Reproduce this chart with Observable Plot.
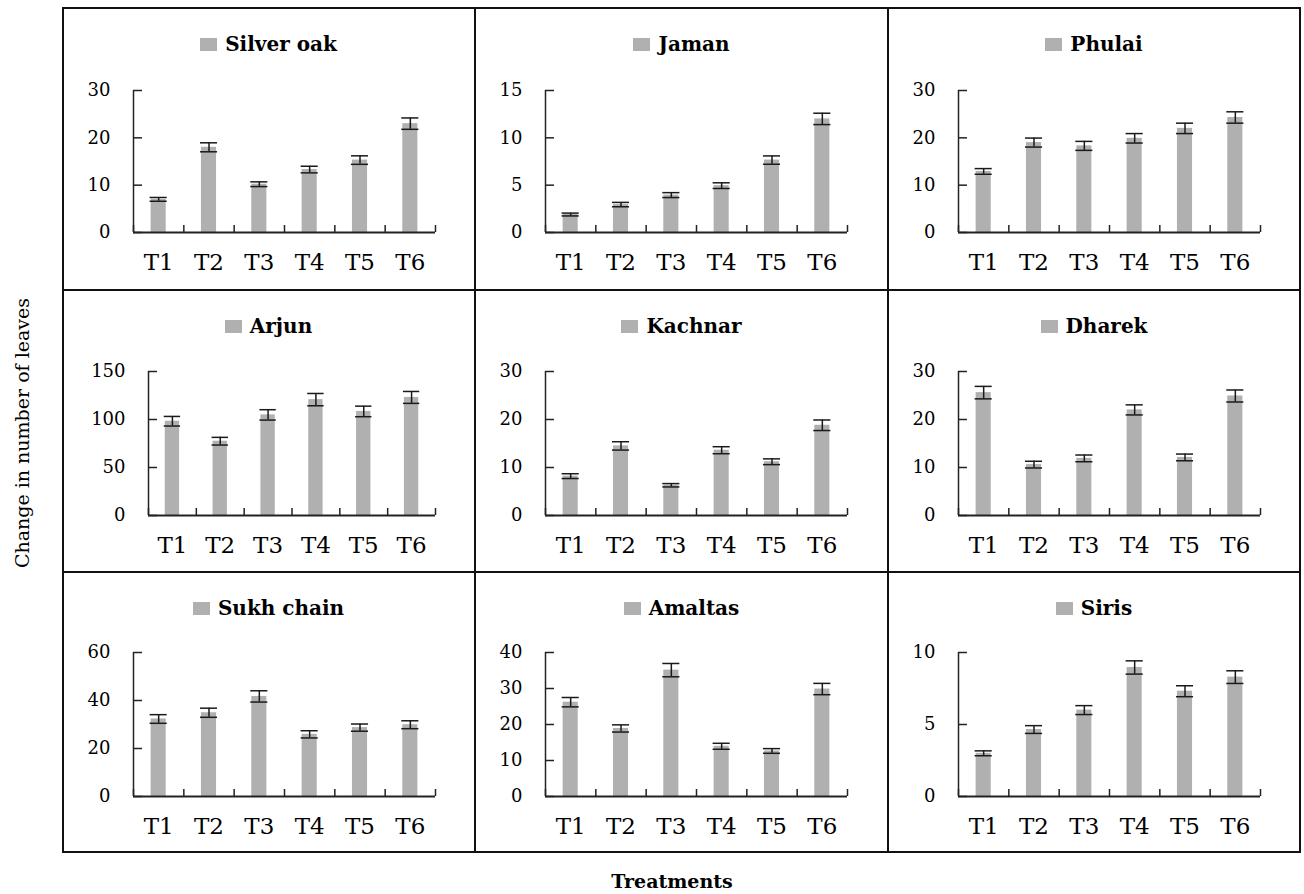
<!DOCTYPE html>
<html>
<head>
<meta charset="utf-8">
<script src="https://cdn.jsdelivr.net/npm/d3@7"></script>
<script src="https://cdn.jsdelivr.net/npm/@observablehq/plot@0.6"></script>
<style>
  html, body { margin: 0; padding: 0; background: #fff; }
  body { width: 1304px; height: 894px; position: relative; overflow: hidden; font-family: "DejaVu Serif", serif; }
  .line { position: absolute; background: #111; z-index: 5; }
  .cell { position: absolute; }
  .cell svg { position: absolute; left: 0; top: 0; }
  .legend { position: absolute; left: 0; right: 0; top: 23px; height: 26px; display: flex; align-items: center; justify-content: center; z-index: 2; }
  .legend .sw { width: 17px; height: 13px; background: #b0b0b0; margin-right: 8px; }
  .legend .lt { font-weight: bold; font-size: 20px; color: #000; line-height: 26px; }
  #ytitle { position: absolute; left: 22px; top: 433px; transform: translate(-50%, -50%) rotate(-90deg); white-space: nowrap; font-size: 19px; color: #000; }
  #xtitle { position: absolute; left: 672px; top: 881px; transform: translate(-50%, -50%); white-space: nowrap; font-size: 19px; font-weight: bold; color: #000; }
</style>
</head>
<body>
<div id="root"></div>
<div id="ytitle">Change in number of leaves</div>
<div id="xtitle">Treatments</div>
<script>
// ---- data ----
const treatments = ["T1", "T2", "T3", "T4", "T5", "T6"];
const speciesNames = ["Silver oak", "Jaman", "Phulai", "Arjun", "Kachnar", "Dharek", "Sukh chain", "Amaltas", "Siris"];

const silverOakMean = [7.0, 18.0, 10.2, 13.3, 15.3, 23.0];
const silverOakErr  = [0.4, 0.95, 0.5, 0.7, 0.9, 1.2];
const jamanMean = [1.9, 2.95, 3.95, 4.95, 7.65, 12.0];
const jamanErr  = [0.15, 0.23, 0.26, 0.3, 0.44, 0.6];
const phulaiMean = [12.9, 19.0, 18.3, 19.9, 22.0, 24.3];
const phulaiErr  = [0.6, 0.95, 0.95, 1.0, 1.1, 1.2];
const arjunMean = [98.2, 77.4, 104.8, 120.7, 108.4, 123.0];
const arjunErr  = [5.0, 4.0, 5.4, 6.4, 5.5, 6.2];
const kachnarMean = [8.2, 14.5, 6.3, 13.6, 11.2, 18.8];
const kachnarErr  = [0.5, 0.87, 0.35, 0.73, 0.6, 1.1];
const dharekMean = [25.6, 10.6, 11.9, 22.0, 12.1, 24.9];
const dharekErr  = [1.3, 0.7, 0.7, 1.05, 0.7, 1.25];
const sukhChainMean = [32.3, 34.9, 41.7, 25.9, 28.7, 29.9];
const sukhChainErr  = [1.8, 1.9, 2.35, 1.5, 1.5, 1.65];
const amaltasMean = [26.2, 18.9, 35.1, 13.95, 12.65, 29.85];
const amaltasErr  = [1.3, 1.0, 1.85, 0.83, 0.65, 1.57];
const sirisMean = [3.0, 4.65, 6.0, 8.96, 7.31, 8.29];
const sirisErr  = [0.17, 0.27, 0.31, 0.46, 0.38, 0.44];

const silverOakTicks = [0, 10, 20, 30];
const jamanTicks = [0, 5, 10, 15];
const phulaiTicks = [0, 10, 20, 30];
const arjunTicks = [0, 50, 100, 150];
const kachnarTicks = [0, 10, 20, 30];
const dharekTicks = [0, 10, 20, 30];
const sukhChainTicks = [0, 20, 40, 60];
const amaltasTicks = [0, 10, 20, 30, 40];
const sirisTicks = [0, 5, 10];

const means = [silverOakMean, jamanMean, phulaiMean, arjunMean, kachnarMean, dharekMean, sukhChainMean, amaltasMean, sirisMean];
const errs = [silverOakErr, jamanErr, phulaiErr, arjunErr, kachnarErr, dharekErr, sukhChainErr, amaltasErr, sirisErr];
const tickSets = [silverOakTicks, jamanTicks, phulaiTicks, arjunTicks, kachnarTicks, dharekTicks, sukhChainTicks, amaltasTicks, sirisTicks];

// ---- layout ----
const colX = [62, 475, 888];
const colW = [413, 413, 412];
const colPlotRight = [373, 372, 372];
const rowY = [8, 290, 572];
const rowH = [282, 282, 280];
const rowMT = [82, 81, 80];
const rowMB = [58, 57, 56];

const root = document.getElementById("root");

function line(l, t, w, h) {
  const d = document.createElement("div");
  d.className = "line";
  Object.assign(d.style, {left: l + "px", top: t + "px", width: w + "px", height: h + "px"});
  document.body.appendChild(d);
}
line(62, 7, 1239, 2);
line(62, 851, 1239, 2);
line(62, 7, 2, 846);
line(1299, 7, 2, 846);
line(474, 7, 2, 846);
line(887, 7, 2, 846);
line(62, 289, 1239, 2);
line(62, 571, 1239, 2);

const axisColor = "#222";

function panel(k) {
  const col = k % 3, row = Math.floor(k / 3);
  const ticks = tickSets[k];
  const yMax = ticks[ticks.length - 1];
  const data = treatments.map((t, i) => ({t, v: means[k][i], lo: means[k][i] - errs[k][i], hi: means[k][i] + errs[k][i]}));
  const W = colW[col], H = rowH[row];
  const ml = yMax >= 100 ? 86 : (col === 0 ? 71 : 70);
  const mr = W - colPlotRight[col];
  const mt = rowMT[row], mb = rowMB[row];
  const pw = W - ml - mr, ph = H - mt - mb;
  const step = pw / treatments.length;

  const svg = Plot.plot({
    width: W, height: H,
    marginLeft: ml, marginRight: mr, marginTop: mt, marginBottom: mb,
    style: {fontFamily: "'DejaVu Serif', serif", background: "transparent", overflow: "visible", color: "#000"},
    x: {domain: treatments, paddingInner: 0.7, paddingOuter: 0.35, align: 0.5, round: false, axis: null},
    y: {domain: [0, yMax], axis: null},
    marks: [
      Plot.barY(data, {x: "t", y: "v", fill: "#b0b0b0"}),
      Plot.ruleX(data, {x: "t", y1: "lo", y2: "hi", stroke: "#1a1a1a", strokeWidth: 1.5}),
      Plot.tickY(data, {x: "t", y: "lo", stroke: "#1a1a1a", strokeWidth: 1.5, insetLeft: -1, insetRight: -1}),
      Plot.tickY(data, {x: "t", y: "hi", stroke: "#1a1a1a", strokeWidth: 1.5, insetLeft: -1, insetRight: -1}),
      Plot.ruleX([treatments[0]], {x: d => d, dx: -step / 2, stroke: axisColor, strokeWidth: 1.5}),
      Plot.ruleY(ticks, {y: d => d, insetRight: pw - 9, stroke: axisColor, strokeWidth: 1.5}),
      Plot.ruleY([0], {stroke: axisColor, strokeWidth: 2}),
      Plot.ruleX(treatments, {x: d => d, dx: -step / 2, insetTop: ph - 7, stroke: axisColor, strokeWidth: 1.5}),
      Plot.ruleX([treatments[treatments.length - 1]], {x: d => d, dx: step / 2, insetTop: ph - 7, stroke: axisColor, strokeWidth: 1.5}),
      Plot.axisY(ticks, {tickSize: 0, tickPadding: 23, fontSize: 18, label: null}),
      Plot.axisX({tickSize: 0, tickPadding: 21, fontSize: 23, label: null})
    ]
  });

  const cell = document.createElement("div");
  cell.className = "cell";
  Object.assign(cell.style, {left: colX[col] + "px", top: rowY[row] + "px", width: W + "px", height: H + "px"});
  const lg = document.createElement("div");
  lg.className = "legend";
  lg.innerHTML = `<div class="sw"></div><div class="lt">${speciesNames[k]}</div>`;
  cell.appendChild(svg);
  cell.appendChild(lg);
  root.appendChild(cell);
}

for (let k = 0; k < 9; k++) panel(k);
</script>
</body>
</html>
